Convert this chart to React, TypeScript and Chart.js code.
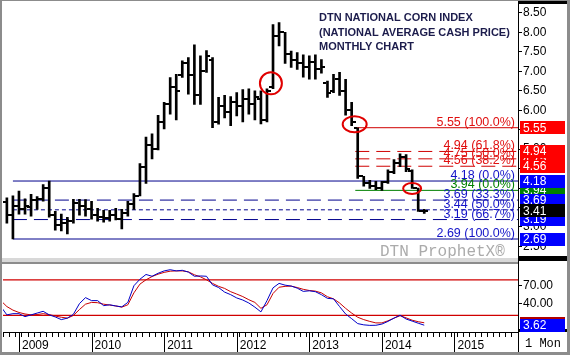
import React, { useEffect, useRef } from 'react';
import { Chart, registerables } from 'chart.js';

Chart.register(...registerables);

// Months counted from Jan 2009 = 0
const barMonths = [-2, -1, 0, 1, 2, 3, 4, 5, 6, 7, 8, 9, 10, 11, 12, 13, 14, 15, 16, 17, 18, 19, 20, 21, 22, 23, 24, 25, 26, 27, 28, 29, 30, 31, 32, 33, 34, 35, 36, 37, 38, 39, 40, 41, 42, 43, 44, 45, 46, 47, 48, 49, 50, 51, 52, 53, 54, 55, 56, 57, 58, 59, 60, 61, 62, 63, 64, 65, 66, 67];
const opens = [3.65, 3.30, 3.55, 3.45, 3.50, 3.70, 3.72, 4.00, 3.30, 3.05, 3.10, 3.15, 3.62, 3.55, 3.45, 3.30, 3.25, 3.22, 3.30, 3.20, 3.35, 3.60, 3.80, 4.55, 5.10, 5.00, 5.70, 6.15, 6.60, 6.90, 7.20, 6.90, 6.40, 7.00, 7.30, 5.70, 6.10, 5.95, 6.20, 6.10, 6.30, 6.15, 6.30, 5.75, 6.60, 7.90, 8.00, 7.45, 7.30, 7.20, 7.10, 7.25, 7.05, 6.70, 6.50, 6.80, 6.50, 6.00, 5.55, 4.30, 4.12, 4.05, 4.00, 4.15, 4.40, 4.65, 4.80, 4.45, 4.00, 3.42];
const highs = [3.75, 3.80, 3.92, 3.72, 3.84, 3.78, 4.09, 4.18, 3.40, 3.33, 3.25, 3.71, 3.71, 3.70, 3.66, 3.48, 3.43, 3.43, 3.48, 3.45, 3.66, 3.86, 4.63, 5.31, 5.39, 5.87, 6.20, 6.84, 6.92, 7.27, 7.35, 7.68, 7.40, 7.53, 7.35, 6.33, 6.38, 6.35, 6.45, 6.53, 6.55, 6.50, 6.50, 6.55, 8.20, 8.25, 8.00, 7.52, 7.48, 7.42, 7.40, 7.42, 7.30, 6.75, 6.92, 6.97, 6.79, 6.20, 5.55, 4.30, 4.20, 4.17, 4.17, 4.47, 4.73, 4.88, 4.86, 4.47, 4.00, 3.45];
const lows = [3.10, 2.69, 3.33, 3.33, 3.28, 3.45, 3.66, 3.25, 2.92, 2.90, 2.82, 3.10, 3.30, 3.28, 3.20, 3.15, 3.12, 3.15, 3.18, 2.95, 3.28, 3.45, 3.80, 4.12, 4.75, 4.98, 5.52, 5.90, 5.75, 6.84, 6.41, 6.15, 6.15, 6.97, 5.55, 5.64, 5.80, 5.60, 5.85, 5.70, 5.90, 5.75, 5.65, 5.70, 6.55, 7.65, 7.20, 7.10, 7.05, 6.85, 6.80, 6.80, 6.95, 6.33, 6.45, 6.38, 5.87, 5.60, 4.25, 4.05, 3.99, 3.96, 3.94, 4.12, 4.37, 4.55, 4.42, 3.99, 3.40, 3.35];
const closes = [3.30, 3.55, 3.45, 3.55, 3.70, 3.72, 4.00, 3.30, 3.05, 3.10, 3.15, 3.62, 3.55, 3.45, 3.30, 3.25, 3.22, 3.30, 3.20, 3.35, 3.60, 3.80, 4.55, 5.10, 5.00, 5.70, 6.15, 6.60, 6.50, 7.20, 6.90, 6.40, 7.00, 7.40, 5.70, 6.10, 5.95, 6.20, 6.10, 6.30, 6.15, 6.35, 5.75, 6.50, 7.90, 8.00, 7.45, 7.30, 7.20, 7.10, 7.25, 7.05, 7.10, 6.45, 6.80, 6.50, 6.00, 5.70, 4.30, 4.12, 4.05, 4.00, 4.15, 4.40, 4.65, 4.80, 4.50, 4.00, 3.42, 3.41];

const stochMonths = [-3, -2, -1, 0, 1, 2, 3, 4, 5, 6, 7, 8, 9, 10, 11, 12, 13, 14, 15, 16, 17, 18, 19, 20, 21, 22, 23, 24, 25, 26, 27, 28, 29, 30, 31, 32, 33, 34, 35, 36, 37, 38, 39, 40, 41, 42, 43, 44, 45, 46, 47, 48, 49, 50, 51, 52, 53, 54, 55, 56, 57, 58, 59, 60, 61, 62, 63, 64, 65, 66, 67];
const stochK = [35, 21, 23, 23, 18, 21, 24, 27, 21, 17.5, 13, 15.5, 22, 40, 50, 45, 45, 36.5, 38, 36, 34.5, 42, 70, 81, 89, 86, 91, 95, 97, 95, 96, 93, 86, 86.5, 86, 71.5, 67, 59.3, 55, 49.5, 46, 41, 34, 26, 45, 66.5, 74, 71, 69.5, 66, 60.5, 61.5, 60, 55, 48.8, 48, 35, 22.5, 14.6, 6.3, 4.2, 3.3, 3.5, 5.5, 10, 15.5, 20.5, 14, 10.5, 7, 3.62];
const stochD = [45, 35, 29, 25, 22.5, 21, 21.5, 23, 21.5, 19, 17, 15.5, 20, 30, 39, 42, 41.5, 39, 37.5, 36, 34, 38, 58, 72.8, 80, 85.5, 89.5, 92.5, 94.5, 95, 95, 93.5, 88.5, 85, 80, 74, 69, 65.5, 60, 56, 51.8, 46.5, 42, 32, 38, 57, 67.5, 69, 69.4, 67, 64, 62, 61, 58, 51.5, 48, 41, 32, 24, 17, 13, 10, 7.5, 7.5, 11, 15.5, 19.5, 16, 12, 9.5, 7.7];
const stochBands = [80, 20];
const stochTicks = [40, 70];

const fibValues = [5.55, 4.94, 4.75, 4.56, 3.94, 4.18, 3.69, 3.44, 3.19, 2.69];
const fibLabels = ['5.55 (100.0%)', '4.94 (61.8%)', '4.75 (50.0%)', '4.56 (38.2%)', '3.94 (0.0%)', '4.18 (0.0%)', '3.69 (33.3%)', '3.44 (50.0%)', '3.19 (66.7%)', '2.69 (100.0%)'];
const fibStartMonth = [55.6, 55.6, 55.6, 55.6, 55.6, -1, -1, -1, -1, -1];
const fibGroup = ['red', 'red', 'red', 'red', 'green', 'blue', 'blue', 'blue', 'blue', 'blue'];
const fibDash = ['solid', 'long', 'long', 'long', 'solid', 'solid', 'long', 'short', 'long', 'solid'];

const circleMonths = [41.65, 55.5, 65];
const circlePrices = [6.69, 5.64, 3.99];

const years = ['2009', '2010', '2011', '2012', '2013', '2014', '2015'];
const titleLines = ['DTN NATIONAL CORN INDEX', '(NATIONAL AVERAGE CASH PRICE)', 'MONTHLY CHART'];

const X_MIN = -2.64;
const X_MAX = 82.5;
const P_MIN = 2.107;
const P_MAX = 8.621;
const S_MIN = -7.83;
const S_MAX = 110.5;

const FONT = 'Arial, "Liberation Sans", sans-serif';
const RED_LINE = '#d00000';
const RED_TEXT = '#e01010';
const BLUE_LINE = '#00008c';
const BLUE_TEXT = '#1414c8';
const GREEN = '#008000';
const BOX = { red: '#ff0000', blue: '#0000ff', green: '#008000', black: '#000000' };
const lineColor = (g: string) => (g === 'red' ? RED_LINE : g === 'green' ? GREEN : BLUE_LINE);
const textColor = (g: string) => (g === 'red' ? RED_TEXT : g === 'green' ? GREEN : BLUE_TEXT);
const dashOf = (d: string) => (d === 'long' ? [14, 7] : d === 'short' ? [4, 3] : []);

const customPlugin = {
  id: 'dtnCustom',
  beforeDraw(chart: any) {
    const { ctx, width, height } = chart;
    ctx.save();
    ctx.fillStyle = '#ffffff';
    ctx.fillRect(0, 0, width, height);
    ctx.restore();
  },
  beforeDatasetsDraw(chart: any) {
    const { ctx } = chart;
    ctx.save();
    ctx.font = '16px "Liberation Mono", "DejaVu Sans Mono", monospace';
    ctx.fillStyle = '#ababab';
    ctx.textBaseline = 'alphabetic';
    ctx.textAlign = 'left';
    ctx.fillText('DTN ProphetX®', 380, 256);
    ctx.restore();
  },
  afterDatasetsDraw(chart: any) {
    const { ctx, chartArea } = chart;
    const x = chart.scales.x;
    const y = chart.scales.y;
    ctx.save();
    ctx.beginPath();
    ctx.rect(chartArea.left, y.top, chartArea.right - chartArea.left, y.bottom - y.top);
    ctx.clip();
    // open / close ticks
    ctx.fillStyle = '#000';
    barMonths.forEach((m, i) => {
      const px = Math.round(x.getPixelForValue(m));
      const po = y.getPixelForValue(opens[i]);
      const pc = y.getPixelForValue(closes[i]);
      ctx.fillRect(px - 4, Math.round(po) - 1, 3, 2);
      ctx.fillRect(px + 1, Math.round(pc) - 1, 3, 2);
    });
    // fib labels
    ctx.font = '12.5px ' + FONT;
    ctx.textAlign = 'right';
    ctx.textBaseline = 'alphabetic';
    fibValues.forEach((v, i) => {
      ctx.fillStyle = textColor(fibGroup[i]);
      ctx.fillText(fibLabels[i], 515, y.getPixelForValue(v) - 2);
    });
    // circles
    ctx.strokeStyle = '#e00000';
    ctx.lineWidth = 2;
    const radii = [[11, 11], [12, 8], [9, 5.5]];
    circleMonths.forEach((m, i) => {
      ctx.beginPath();
      ctx.ellipse(x.getPixelForValue(m), y.getPixelForValue(circlePrices[i]), radii[i][0], radii[i][1], 0, 0, Math.PI * 2);
      ctx.stroke();
    });
    // title
    ctx.font = 'bold 11px ' + FONT;
    ctx.fillStyle = '#1c1c4c';
    ctx.textAlign = 'left';
    const baselines = [21, 35.5, 50];
    titleLines.forEach((t, i) => ctx.fillText(t, 319, baselines[i]));
    ctx.restore();
  },
  afterDraw(chart: any) {
    const { ctx, width, height, chartArea } = chart;
    const x = chart.scales.x;
    const y = chart.scales.y;
    const y2 = chart.scales.y2;
    ctx.save();
    // panel separator
    ctx.fillStyle = '#8c8c8c';
    ctx.fillRect(0, 262, chartArea.right, 2);
    ctx.fillStyle = '#d8d8d8';
    ctx.fillRect(0, 258, chartArea.right, 4);
    // right axis vertical line
    ctx.fillStyle = '#000';
    ctx.fillRect(chartArea.right, 0, 1, 353);
    // black bars on the right axis
    ctx.fillRect(chartArea.right + 1, 0, 48, 4);
    ctx.fillRect(chartArea.right + 1, 256, 48, 5);
    ctx.fillRect(chartArea.right + 1, 329, 48, 3);
    // price boxes
    const last = closes[closes.length - 1];
    const boxes: [number, string][] = [
      [fibValues[4], BOX.green], [fibValues[2], BOX.red], [fibValues[1], BOX.red], [fibValues[3], BOX.red], [fibValues[0], BOX.red],
      [fibValues[9], BOX.blue], [fibValues[8], BOX.blue], [fibValues[6], BOX.blue], [fibValues[5], BOX.blue], [last, BOX.black],
    ];
    ctx.font = '12px ' + FONT;
    ctx.textAlign = 'left';
    ctx.textBaseline = 'middle';
    const drawBox = (py: number, col: string, txt: string) => {
      ctx.fillStyle = col;
      ctx.fillRect(chartArea.right + 2, Math.round(py - 6.5), 45, 13);
      if (txt) {
        ctx.fillStyle = '#fff';
        ctx.fillText(txt, chartArea.right + 5, py + 0.5);
      }
    };
    boxes.forEach(([v, c]) => drawBox(y.getPixelForValue(v), c, v.toFixed(2)));
    // stochastic boxes (%D box mostly hidden behind %K box)
    const kLast = stochK[stochK.length - 1];
    const kPix = y2.getPixelForValue(kLast);
    const dPix = Math.min(y2.getPixelForValue(stochD[stochD.length - 1]), kPix - 1.5);
    drawBox(Math.max(dPix, kPix - 1.5), '#b00000', '');
    drawBox(kPix, BOX.blue, kLast.toFixed(2));
    // year long ticks
    ctx.fillStyle = '#000';
    years.forEach((_, i) => {
      const px = Math.round(x.getPixelForValue(i * 12));
      ctx.fillRect(px, chartArea.bottom, 1, 20);
    });
    // 1 Mon
    ctx.font = '12px "Liberation Mono", "DejaVu Sans Mono", monospace';
    ctx.textBaseline = 'alphabetic';
    ctx.fillStyle = '#000';
    ctx.fillText('1 Mon', chartArea.right + 7, 347);
    // frame
    ctx.fillStyle = '#8c8c8c';
    ctx.fillRect(0, 0, 2, height);
    ctx.fillRect(0, 0, width, 1);
    ctx.fillRect(width - 3, 0, 3, height);
    ctx.fillRect(0, 352, width, 3);
    ctx.restore();
  },
};

export default function App() {
  const ref = useRef<HTMLCanvasElement>(null);
  useEffect(() => {
    document.body.style.margin = '0';
    const canvas = ref.current;
    if (!canvas) return;
    const fibDatasets = fibValues.map((v, i) => ({
      type: 'line' as const,
      data: [{ x: fibStartMonth[i], y: v }, { x: X_MAX, y: v }],
      xAxisID: 'x',
      yAxisID: 'y',
      borderColor: lineColor(fibGroup[i]),
      borderWidth: 1,
      borderDash: dashOf(fibDash[i]),
      pointRadius: 0,
      order: 5,
    }));
    const bandDatasets = stochBands.map((v) => ({
      type: 'line' as const,
      data: [{ x: X_MIN, y: v }, { x: X_MAX, y: v }],
      xAxisID: 'x',
      yAxisID: 'y2',
      borderColor: '#d00000',
      borderWidth: 1.3,
      pointRadius: 0,
      order: 5,
    }));
    const chart = new Chart(canvas, {
      type: 'bar',
      data: {
        datasets: [
          {
            type: 'bar',
            data: barMonths.map((m, i) => ({ x: m, y: [lows[i], highs[i]] })) as any,
            xAxisID: 'x',
            yAxisID: 'y',
            backgroundColor: '#000',
            borderWidth: 0,
            barThickness: 2,
            grouped: false,
            order: 1,
          } as any,
          ...fibDatasets,
          ...bandDatasets,
          {
            type: 'line',
            data: stochMonths.map((m, i) => ({ x: m, y: stochD[i] })),
            xAxisID: 'x',
            yAxisID: 'y2',
            borderColor: '#c80000',
            borderWidth: 1,
            pointRadius: 0,
            order: 3,
          },
          {
            type: 'line',
            data: stochMonths.map((m, i) => ({ x: m, y: stochK[i] })),
            xAxisID: 'x',
            yAxisID: 'y2',
            borderColor: '#0000c8',
            borderWidth: 1,
            pointRadius: 0,
            order: 2,
          },
        ] as any,
      },
      options: {
        responsive: false,
        animation: false,
        devicePixelRatio: 1,
        layout: { padding: { left: 3, top: 5, right: 0, bottom: 0 } },
        plugins: { legend: { display: false }, tooltip: { enabled: false }, title: { display: false } },
        scales: {
          x: {
            type: 'linear',
            position: 'bottom',
            min: X_MIN,
            max: X_MAX,
            offset: false,
            ticks: {
              stepSize: 1,
              autoSkip: false,
              maxRotation: 0,
              minRotation: 0,
              includeBounds: false,
              align: 'start',
              labelOffset: 3,
              padding: 1,
              color: '#000',
              font: { family: FONT, size: 12 },
              callback: (v: any) => {
                const n = Math.round(Number(v));
                return n % 12 === 0 && n >= 0 && n / 12 < years.length ? years[n / 12] : '';
              },
            },
            grid: { drawOnChartArea: false, tickLength: 5, color: '#000' },
            border: { display: true, color: '#000' },
            afterFit: (s: any) => { s.height = 23; },
          } as any,
          y: {
            type: 'linear',
            position: 'right',
            stack: 'main',
            stackWeight: 256,
            min: P_MIN,
            max: P_MAX,
            ticks: {
              stepSize: 0.5,
              autoSkip: false,
              includeBounds: false,
              padding: 1,
              color: '#000',
              font: { family: FONT, size: 12 },
              callback: (v: any) => Number(v).toFixed(2),
            },
            grid: { drawOnChartArea: false, tickLength: 4, color: '#000' },
            border: { display: true, color: '#000' },
            afterFit: (s: any) => { s.width = 52; },
          } as any,
          y2: {
            type: 'linear',
            position: 'right',
            stack: 'main',
            stackWeight: 71,
            min: S_MIN,
            max: S_MAX,
            ticks: {
              autoSkip: false,
              padding: 1,
              color: '#000',
              font: { family: FONT, size: 12 },
              callback: (v: any) => Number(v).toFixed(2),
            },
            afterBuildTicks: (s: any) => { s.ticks = stochTicks.map((v) => ({ value: v })); },
            grid: { drawOnChartArea: false, tickLength: 4, color: '#000' },
            border: { display: true, color: '#000' },
            afterFit: (s: any) => { s.width = 52; },
          } as any,
        },
      },
      plugins: [customPlugin],
    });
    return () => chart.destroy();
  }, []);
  return (
    <div style={{ position: 'absolute', left: 0, top: 0, width: 570, height: 355 }}>
      <canvas ref={ref} width={570} height={355} style={{ display: 'block', width: 570, height: 355 }} />
    </div>
  );
}
